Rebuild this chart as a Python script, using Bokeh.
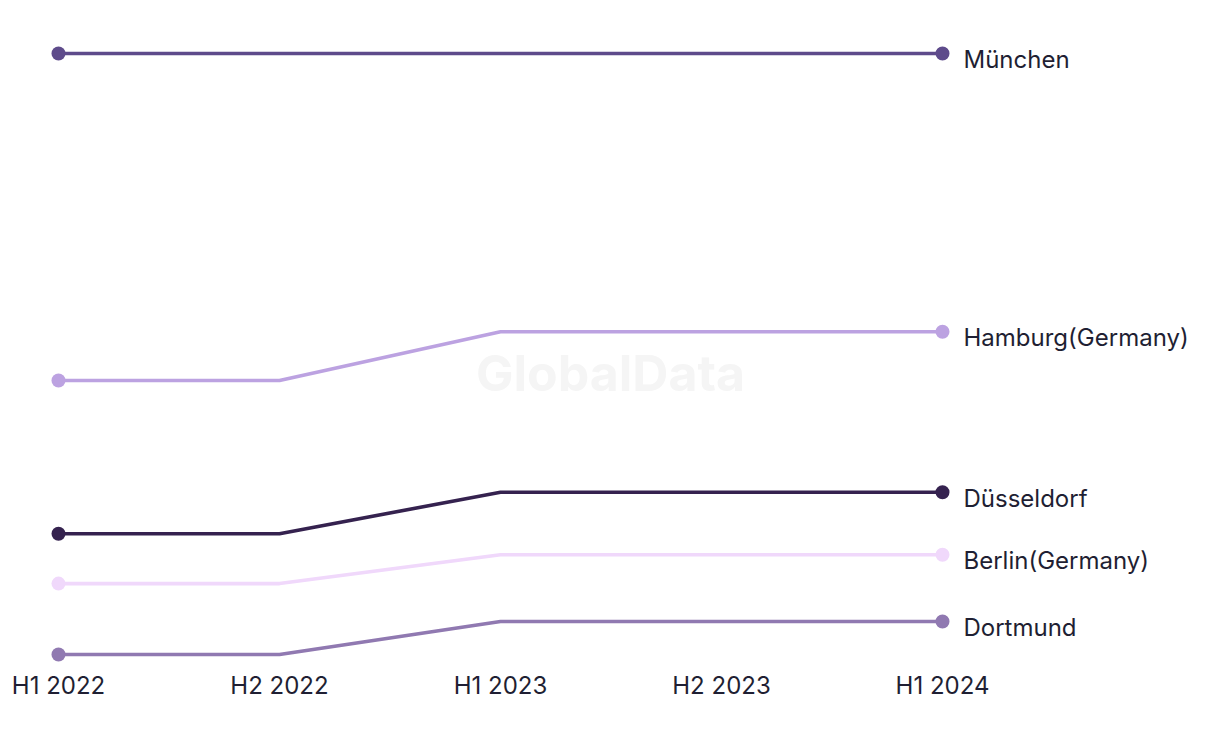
from bokeh.plotting import figure
from bokeh.models import Range1d, ColumnDataSource, Label, FixedTicker
from bokeh.core.properties import value
from bokeh.embed import file_html
from bokeh.resources import INLINE

periods = ["H1 2022", "H2 2022", "H1 2023", "H2 2023", "H1 2024"]
cities = ["München", "Hamburg(Germany)", "Düsseldorf", "Berlin(Germany)", "Dortmund"]
muenchen = [100.0, 100.0, 100.0, 100.0, 100.0]
hamburg = [45.6, 45.6, 53.7, 53.7, 53.7]
duesseldorf = [20.1, 20.1, 27.0, 27.0, 27.0]
berlin = [11.8, 11.8, 16.6, 16.6, 16.6]
dortmund = [0.0, 0.0, 5.5, 5.5, 5.5]
series = [muenchen, hamburg, duesseldorf, berlin, dortmund]
colors = ["#5e4b8b", "#bca2e1", "#35224f", "#f0d8fb", "#9079b1"]

FONT = "Inter"
TXT = "#1f1f33"

p = figure(width=1212, height=724, output_backend="svg", toolbar_location=None,
           x_range=Range1d(-50 / 221, (1204 - 50) / 221),
           y_range=Range1d(-10 / 6.01, 100 + 45 / 6.01),
           min_border_left=8, min_border_right=0, min_border_top=8, min_border_bottom=60)
p.outline_line_color = None
p.xgrid.visible = False
p.ygrid.visible = False
p.yaxis.visible = False
p.background_fill_color = "white"

xs = list(range(len(periods)))
p.xaxis.ticker = FixedTicker(ticks=xs)
p.xaxis.major_label_overrides = {i: lab for i, lab in enumerate(periods)}
p.xaxis.axis_line_color = None
p.xaxis.major_tick_line_color = None
p.xaxis.minor_tick_line_color = None
p.xaxis.major_label_text_font = FONT
p.xaxis.major_label_text_font_size = "24px"
p.xaxis.major_label_text_color = TXT
p.xaxis.major_label_standoff = 0

wm = Label(x=2.498, y=46.8, text="GlobalData", text_font=FONT, text_font_size="50px",
           text_font_style="bold", text_color="#f5f5f5", text_align="center",
           text_baseline="middle")
p.add_layout(wm)

for name, vals, col in zip(cities, series, colors):
    p.line(xs, vals, line_color=col, line_width=3.6)
    p.scatter([xs[0], xs[-1]], [vals[0], vals[-1]], size=14, fill_color=col, line_color=None)
    src = ColumnDataSource(dict(x=[xs[-1]], y=[vals[-1]], t=[name]))
    p.text(x="x", y="y", text="t", source=src, x_offset=21, y_offset=6,
           text_font=value(FONT), text_font_size="24px", text_color=TXT,
           text_baseline="middle", text_align="left")

open("out.html", "w").write(file_html(p, INLINE))
